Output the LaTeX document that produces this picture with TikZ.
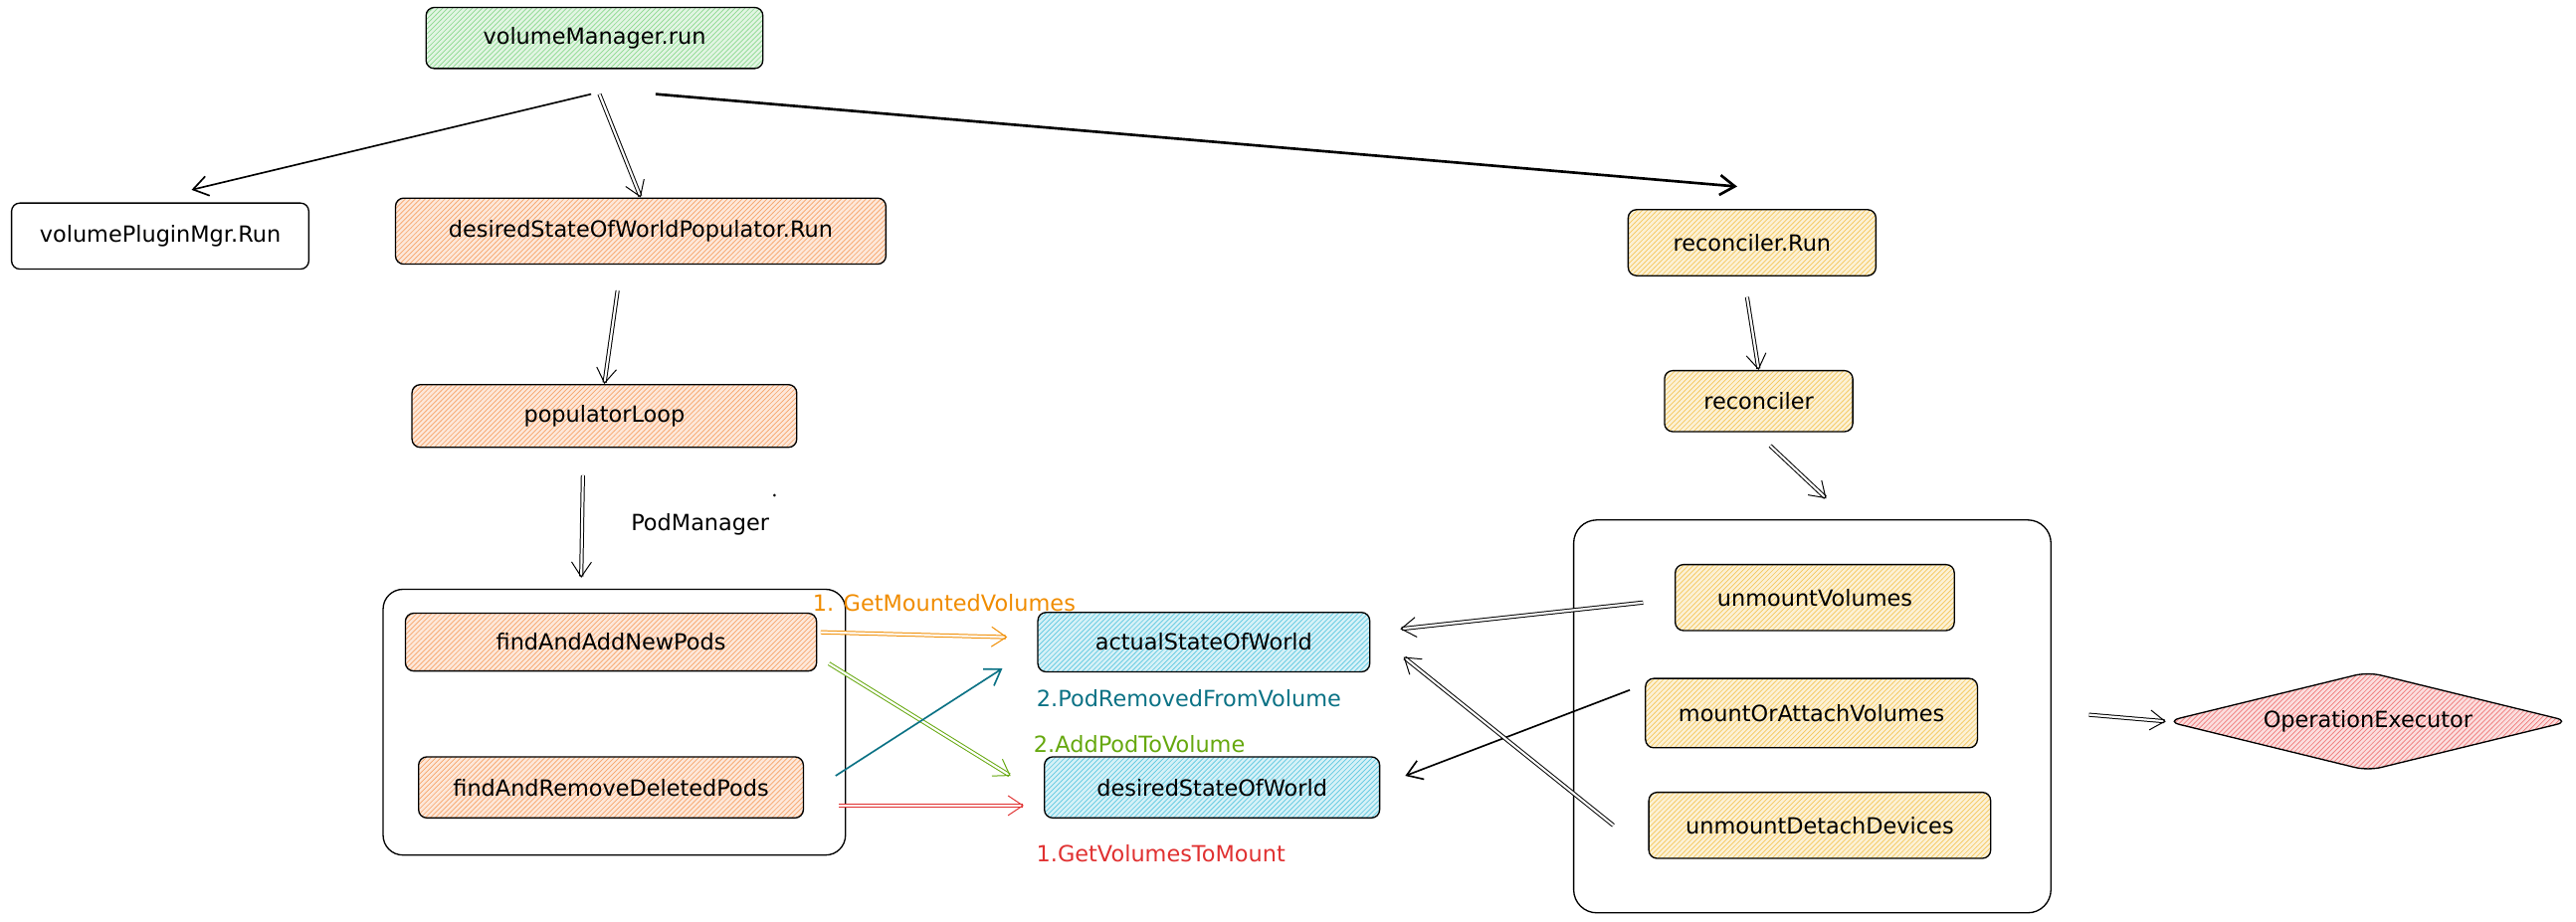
\documentclass[tikz,border=0pt]{standalone}
\usepackage{fontspec}
\setmainfont{DejaVu Sans}
\usetikzlibrary{patterns,shapes.geometric,arrows.meta}
\definecolor{cgreen}{HTML}{8CD98F}
\definecolor{corange}{HTML}{F7A46A}
\definecolor{cyellow}{HTML}{F5C75A}
\definecolor{cblue}{HTML}{5CC8E0}
\definecolor{cred}{HTML}{F07A7A}
\definecolor{lorange}{HTML}{F08C00}
\definecolor{lteal}{HTML}{0B7285}
\definecolor{lgreen}{HTML}{66A80F}
\definecolor{lred}{HTML}{E03131}
\tikzset{
 box/.style={draw=black, rounded corners=5pt, line width=0.8pt, font=\fontsize{13.5}{15}\selectfont, inner sep=0pt},
 hatch/.style={preaction={fill=#1!25}, pattern={north east lines}, pattern color=#1},
 arr/.style={-{Straight Barb[length=9pt,width=12pt]}, line width=1pt},
 darr/.style={arr, double, double distance=1.3pt, line width=0.6pt},
 lbl/.style={font=\fontsize{13.5}{15}\selectfont, inner sep=0pt},
}
\begin{document}
\begin{tikzpicture}[x=1pt,y=-1pt]
\useasboundingbox (0,0) rectangle (1560,558);
\node[box, hatch=cgreen, minimum width=204pt, minimum height=37pt] (vm) at (360,23) {volumeManager.run};
\node[box, minimum width=180pt, minimum height=40pt] (vpm) at (97,143) {volumePluginMgr.Run};
\node[box, hatch=corange, minimum width=297pt, minimum height=40pt] (dswp) at (388,140) {desiredStateOfWorldPopulator.Run};
\node[box, hatch=cyellow, minimum width=150pt, minimum height=40pt] (rr) at (1061,147) {reconciler.Run};
\node[box, hatch=corange, minimum width=233pt, minimum height=38pt] (pl) at (366,252) {populatorLoop};
\node[box, hatch=cyellow, minimum width=114pt, minimum height=37pt] (rc) at (1065,243) {reconciler};
\node[draw, rounded corners=12pt, line width=0.8pt, minimum width=280pt, minimum height=161pt] (lb) at (372,437.5) {};
\node[box, hatch=corange, minimum width=249pt, minimum height=35pt] (fa) at (370,389) {findAndAddNewPods};
\node[box, hatch=corange, minimum width=233pt, minimum height=37pt] (fr) at (370,477) {findAndRemoveDeletedPods};
\node[box, hatch=cblue, minimum width=201pt, minimum height=36pt] (asw) at (729,389) {actualStateOfWorld};
\node[box, hatch=cblue, minimum width=203pt, minimum height=37pt] (dsw) at (734,477) {desiredStateOfWorld};
\node[draw, rounded corners=14pt, line width=0.8pt, minimum width=289pt, minimum height=238pt] (rb) at (1097.5,434) {};
\node[box, hatch=cyellow, minimum width=169pt, minimum height=40pt] (uv) at (1099,362) {unmountVolumes};
\node[box, hatch=cyellow, minimum width=201pt, minimum height=42pt] (ma) at (1097,432) {mountOrAttachVolumes};
\node[box, hatch=cyellow, minimum width=207pt, minimum height=40pt] (ud) at (1102,500) {unmountDetachDevices};
\node[diamond, draw, line width=0.8pt, hatch=cred, minimum width=244pt, minimum height=60pt, aspect=4, inner sep=0pt, rounded corners=8pt, font=\fontsize{13.5}{15}\selectfont] (oe) at (1434,437) {OperationExecutor};
\node[lbl] (pm) at (424,318) {PodManager};
\node[lbl, text=lorange, anchor=west] (l1) at (492,365) {1. GetMountedVolumes};
\node[lbl, text=lteal] (l2) at (720,423) {2.PodRemovedFromVolume};
\node[lbl, text=lgreen] (l3) at (690,451) {2.AddPodToVolume};
\node[lbl, text=lred] (l4) at (703,517) {1.GetVolumesToMount};
\fill (469,300) circle (0.9pt);
\coordinate (c1) at (358,57); \coordinate (c2) at (363,57); \coordinate (c3) at (397,57);
\coordinate (s1) at (374,176); \coordinate (s2) at (1058,180); \coordinate (s3) at (1072,270);
\coordinate (e3) at (1106,302); \coordinate (s4) at (353,288);
\coordinate (o1) at (497,383); \coordinate (o2) at (610,386);
\coordinate (g1) at (502,402); \coordinate (g2) at (612,470);
\coordinate (t1) at (506,470); \coordinate (t2) at (607,405);
\coordinate (r1) at (508,488); \coordinate (r2) at (620,488);
\coordinate (b1) at (995,365); \coordinate (b2) at (848,381);
\coordinate (m1) at (987,418); \coordinate (m2) at (851,470);
\coordinate (u1) at (977,500); \coordinate (u2) at (850,398);
\coordinate (x1) at (1265,433);
\draw[arr] (c1) -- (116,115);
\draw[darr] (c2) -- (dswp.north);
\draw[arr, line width=1.6pt] (c3) -- (1052,113);
\draw[darr] (s1) -- (pl.north);
\draw[darr] (s2) -- (rc.north);
\draw[darr] (s3) -- (e3);
\draw[darr] (s4) -- (352,350);
\draw[darr, lorange] (o1) -- (o2);
\draw[darr, lgreen] (g1) -- (g2);
\draw[arr, lteal] (t1) -- (t2);
\draw[darr, lred] (r1) -- (r2);
\draw[darr] (b1) -- (b2);
\draw[arr] (m1) -- (m2);
\draw[darr] (u1) -- (u2);
\draw[darr] (x1) -- (oe.west);
\end{tikzpicture}
\end{document}
